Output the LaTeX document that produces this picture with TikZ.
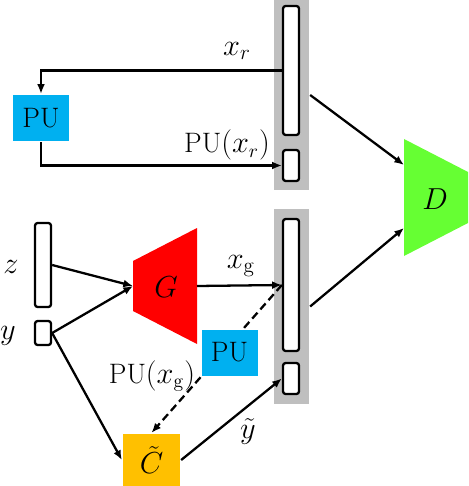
\documentclass[tikz,border=0pt]{standalone}
\usetikzlibrary{arrows.meta}
\definecolor{barGray}{HTML}{BFBFBF}
\definecolor{puBlue}{HTML}{00B0F0}
\definecolor{genRed}{HTML}{FF0000}
\definecolor{disGreen}{HTML}{66FF33}
\definecolor{clsOrange}{HTML}{FFC000}
\tikzset{
  bar/.style={fill=barGray, minimum width=7mm, inner sep=0pt},
  slot/.style={draw, fill=white, rounded corners=1.5pt, minimum width=3.2mm, inner sep=0pt},
  pubox/.style={fill=puBlue, minimum width=11.2mm, minimum height=9.2mm, inner sep=0pt},
  mlab/.style={font=\fontsize{17}{19}\selectfont, inner sep=0pt},
}
\begin{document}
\begin{tikzpicture}[x=0.2mm,y=-0.2mm,line width=1.3pt,>={Latex[length=5.5pt,width=4.5pt]},
    font=\fontsize{16}{18}\selectfont]
        \useasboundingbox (0,0) rectangle (468,486);
        % real and generated batches
        \node[bar, minimum height=38mm] (rbar) at (291.5,95) {};
        \node[slot, minimum height=25.8mm] (rlong) at (291,70.5) {};
        \node[slot, minimum height=6.2mm] (rsmall) at (291,165.5) {};
        \node[bar, minimum height=39mm] (gbar) at (291.5,306.5) {};
        \node[slot, minimum height=26.4mm] (glong) at (291,285) {};
        \node[slot, minimum height=6.2mm] (gsmall) at (291,378.5) {};
        % inputs
        \node[slot, minimum height=16.8mm] (zin) at (43,265) {};
        \node[slot, minimum height=4.8mm] (yin) at (43,333) {};
        \node[mlab] (zl) at (11,267) {$z$};
        \node[mlab] (yl) at (8,336) {$y$};
        % G and D
        \fill[genRed] (133,261) -- (197,228) -- (197,344) -- (133,311) -- cycle;
        \coordinate (gin) at (133,286);
        \coordinate (gout) at (197,286);
        \node[mlab] (gl) at (166,287) {$G$};
        \fill[disGreen] (404,139) -- (468,172) -- (468,223) -- (404,256) -- cycle;
        \coordinate (din1) at (404,165);
        \coordinate (din2) at (404,228);
        \node[mlab] (dl) at (435,199) {$D$};
        \node[pubox] (pu1) at (41,118) {PU};
        \node[fill=clsOrange, minimum width=11.4mm, minimum height=10.4mm, inner sep=0pt,
              font=\fontsize{17}{19}\selectfont] (ct) at (151.5,460) {$\tilde{C}$};
        % arrows
        \draw[->] (rlong.west) -| (pu1.north);
        \draw[->] (pu1.south) |- (rsmall.west);
        \draw[->] (rbar.east) -- (din1);
        \draw[->] (gbar.east) -- (din2);
        \draw[->] (zin.east) -- (gin);
        \draw[->] (yin.east) -- (gin);
        \draw[->] (yin.east) -- (ct.west);
        \draw[->] (gout) -- (glong.west);
        \draw[->, dash pattern=on 4.5pt off 2.5pt] (glong.west) -- (ct.north);
        \draw[->] (ct.east) -- (gsmall.west);
        \node[pubox] (pu2) at (229.5,352.5) {PU};
        % labels
        \node[mlab] (xr) at (237,51) {$x_r$};
        \node[inner sep=0pt] (pxr) at (227,145) {PU$(x_r)$};
        \node[mlab] (xg) at (241,266) {$x_{\mathrm{g}}$};
        \node[inner sep=0pt] (pxg) at (152,376) {PU$(x_{\mathrm{g}})$};
        \node[mlab] (yt) at (248,431) {$\tilde{y}$};
\end{tikzpicture}
\end{document}
